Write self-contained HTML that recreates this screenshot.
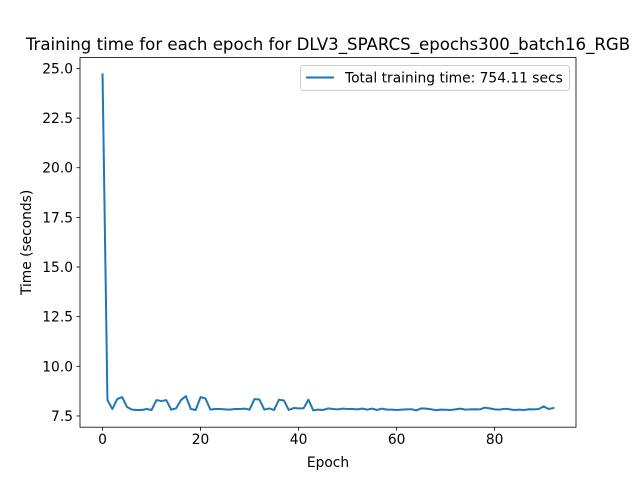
<!DOCTYPE html>
<html><head><meta charset="utf-8"><style>
body{margin:0;background:#fff;}
svg{display:block;font-family:"DejaVu Sans","Liberation Sans",sans-serif;}
</style></head><body>
<svg id="chart" width="640" height="480">
<rect width="640" height="480" fill="#fff"/>
<text x="328" y="50" text-anchor="middle" font-size="16.6" fill="#000">Training time for each epoch for DLV3_SPARCS_epochs300_batch16_RGB</text>
<g id="plot"></g>
</svg>
<script>
const epochs = [];
const times = [24.7,8.3,7.85,8.35,8.45,7.95,7.82,7.8,7.8,7.85,7.8,8.3,8.25,8.3,7.82,7.88,8.3,8.5,7.85,7.8,8.45,8.38,7.82,7.85,7.85,7.83,7.82,7.85,7.85,7.87,7.82,8.35,8.33,7.82,7.88,7.8,8.32,8.28,7.8,7.9,7.88,7.88,8.32,7.78,7.82,7.8,7.88,7.85,7.83,7.87,7.85,7.85,7.83,7.87,7.82,7.87,7.8,7.87,7.82,7.82,7.8,7.82,7.83,7.84,7.78,7.88,7.87,7.84,7.79,7.82,7.81,7.8,7.83,7.87,7.82,7.83,7.84,7.83,7.92,7.88,7.83,7.82,7.86,7.84,7.8,7.82,7.8,7.84,7.83,7.85,7.98,7.85,7.9];
for (let i = 0; i < times.length; i++) epochs.push(i);
const xTicks = [0,20,40,60,80];
const yTicks = [7.5,10.0,12.5,15.0,17.5,20.0,22.5,25.0];
const legendLabel = "Total training time: 754.11 secs";

const L=80,R=576,T=57.6,B=427.2;
const xmin0=Math.min(...epochs),xmax0=Math.max(...epochs);
const ymin0=Math.min(...times),ymax0=Math.max(...times);
const xm=(xmax0-xmin0)*0.05, ym=(ymax0-ymin0)*0.05;
const xd=[xmin0-xm,xmax0+xm], yd=[ymin0-ym,ymax0+ym];
const sx=v=>L+(v-xd[0])/(xd[1]-xd[0])*(R-L);
const sy=v=>B-(v-yd[0])/(yd[1]-yd[0])*(B-T);
const NS="http://www.w3.org/2000/svg";
const g=document.getElementById('plot');
function mk(t,a,p){const e=document.createElementNS(NS,t);for(const k in a)e.setAttribute(k,a[k]);(p||g).appendChild(e);return e;}

const line=mk('polyline',{points:epochs.map((x,i)=>sx(x)+','+sy(times[i])).join(' '),fill:'none',stroke:'#1f77b4','stroke-width':2,'stroke-linejoin':'round','stroke-linecap':'square'});



const frame=mk('rect',{x:L,y:T,width:R-L,height:B-T,fill:'none',stroke:'#000','stroke-width':0.8});



xTicks.forEach(v=>{
  const x=sx(v);
  mk('line',{x1:x,x2:x,y1:B,y2:B+3.5,stroke:'#000','stroke-width':0.8});
  const t=mk('text',{x:x,y:B+17,'text-anchor':'middle','font-size':13.8});
  t.textContent=v;
  
  
});
yTicks.forEach(v=>{
  const y=sy(v);
  mk('line',{x1:L-3.5,x2:L,y1:y,y2:y,stroke:'#000','stroke-width':0.8});
  const t=mk('text',{x:L-7,y:y+5,'text-anchor':'end','font-size':13.8});
  t.textContent=v.toFixed(1);
  
  
});
const xl=mk('text',{x:(L+R)/2,y:467,'text-anchor':'middle','font-size':13.8});
xl.textContent='Epoch';


const yl=mk('text',{x:0,y:0,'text-anchor':'middle','font-size':13.8,transform:`translate(31,${(T+B)/2}) rotate(-90)`});
yl.textContent='Time (seconds)';



const lg=mk('g',{});


mk('rect',{x:300.5,y:65.5,width:269,height:25,rx:2.5,fill:'#fff',stroke:'#ccc','stroke-width':1},lg);
mk('line',{x1:306,x2:334,y1:77.5,y2:77.5,stroke:'#1f77b4','stroke-width':2},lg);
const lt=mk('text',{x:345,y:82.5,'font-size':13.8},lg);
lt.textContent=legendLabel;


</script>
</body></html>
